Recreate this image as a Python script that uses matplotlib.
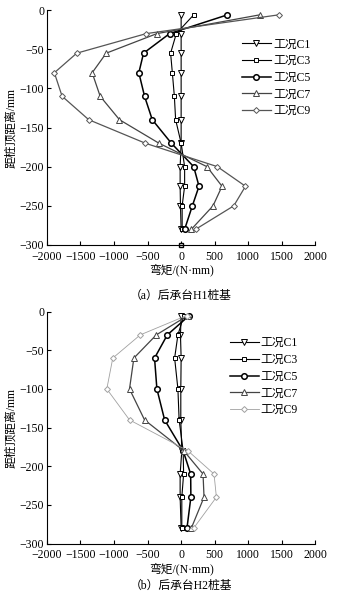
import matplotlib
matplotlib.use("Agg")
import matplotlib.pyplot as plt

plt.rcParams['font.family'] = ['Liberation Serif', 'Noto Sans CJK SC']
plt.rcParams['axes.unicode_minus'] = True

names = ['工况C1', '工况C3', '工况C5', '工况C7', '工况C9']

# H1 pile: depth (mm) and bending moment (N·mm) per case
depth_h1 = [-6, -30, -55, -80, -110, -140, -170, -200, -225, -250, -280]
c1_h1 = [0, 0, 0, 0, 0, 0, 0, -15, -15, -10, 0]
c3_h1 = [187, -72, -157, -131, -101, -82, 0, 52, 52, 15, 15]
c5_h1 = [690, -172, -560, -630, -545, -430, -146, 187, 266, 167, 52]
c7_h1 = [1172, -361, -1116, -1325, -1206, -918, -331, 385, 609, 475, 152]
c9_h1 = [1455, -520, -1555, -1888, -1773, -1376, -534, 540, 958, 784, 216]

# H2 pile
depth_h2 = [-5, -30, -60, -100, -140, -180, -210, -240, -280]
c1_h2 = [0, -10, 0, -5, -5, 10, -15, -15, 0]
c3_h2 = [40, -48, -97, -48, -30, 30, 37, 10, 10]
c5_h2 = [120, -206, -396, -361, -246, 30, 142, 145, 87]
c7_h2 = [100, -370, -704, -769, -545, 40, 326, 341, 152]
c9_h2 = [80, -609, -1018, -1107, -769, 101, 490, 525, 187]

styles = [
    dict(marker='v', color='black', lw=0.8, ms=4),
    dict(marker='s', color='black', lw=0.8, ms=3.5),
    dict(marker='o', color='black', lw=1.1, ms=4, mew=1.1),
    dict(marker='^', color='#444444', lw=0.9, ms=4),
    dict(marker='D', color='#555555', lw=0.9, ms=3),
]

fig = plt.figure(figsize=(3.37, 5.96), dpi=100)
ax1 = fig.add_axes([0.139, 0.589, 0.797, 0.394])
ax2 = fig.add_axes([0.139, 0.088, 0.797, 0.389])


def draw(ax, depth, series, c9_color, c9_lw, legend_anchor):
    for name, xs, st in zip(names, series, styles):
        st = dict(st)
        if name == '工况C9':
            st['color'] = c9_color
            st['lw'] = c9_lw
        ax.plot(xs, depth, marker=st['marker'], color=st['color'],
                lw=st['lw'], ms=st['ms'], mew=st.get('mew', 0.7),
                mfc='white', mec=st['color'], label=name, clip_on=False)
    ax.set_xlim(-2000, 2000)
    ax.set_ylim(-300, 0)
    ax.set_xticks(range(-2000, 2001, 500))
    ax.set_yticks(range(-300, 1, 50))
    ax.spines['top'].set_visible(False)
    ax.spines['right'].set_visible(False)
    ax.tick_params(direction='in', length=3, width=0.8, labelsize=8.5)
    ax.tick_params(axis='x', pad=4)
    ax.tick_params(axis='y', pad=2)
    ax.set_xlabel('弯矩/(N·mm)', fontsize=8.5, labelpad=1)
    ax.set_ylabel('距桩顶距离/mm', fontsize=8.5)
    ax.yaxis.set_label_coords(-0.11, 0.5)
    ax.legend(loc='upper left', bbox_to_anchor=legend_anchor, frameon=False,
              fontsize=8.5, handlelength=2.4, handletextpad=0.2,
              labelspacing=0.4, borderaxespad=0)


draw(ax1, depth_h1, [c1_h1, c3_h1, c5_h1, c7_h1, c9_h1], '#555555', 0.9,
     (0.71, 0.90))
# stray square at the foot of the H1 plot
ax1.plot([0], [-300], marker='s', ms=3.5, mfc='white', mec='black',
         ls='none', clip_on=False)
draw(ax2, depth_h2, [c1_h2, c3_h2, c5_h2, c7_h2, c9_h2], '#a0a0a0', 0.6,
     (0.665, 0.91))

fig.text(0.537, 1 - 296 / 596, '（a）后承台H1桩基', ha='center', va='center',
         fontsize=8.5)
fig.text(0.537, 1 - 586 / 596, '（b）后承台H2桩基', ha='center', va='center',
         fontsize=8.5)

fig.savefig('out.png', dpi=100)
